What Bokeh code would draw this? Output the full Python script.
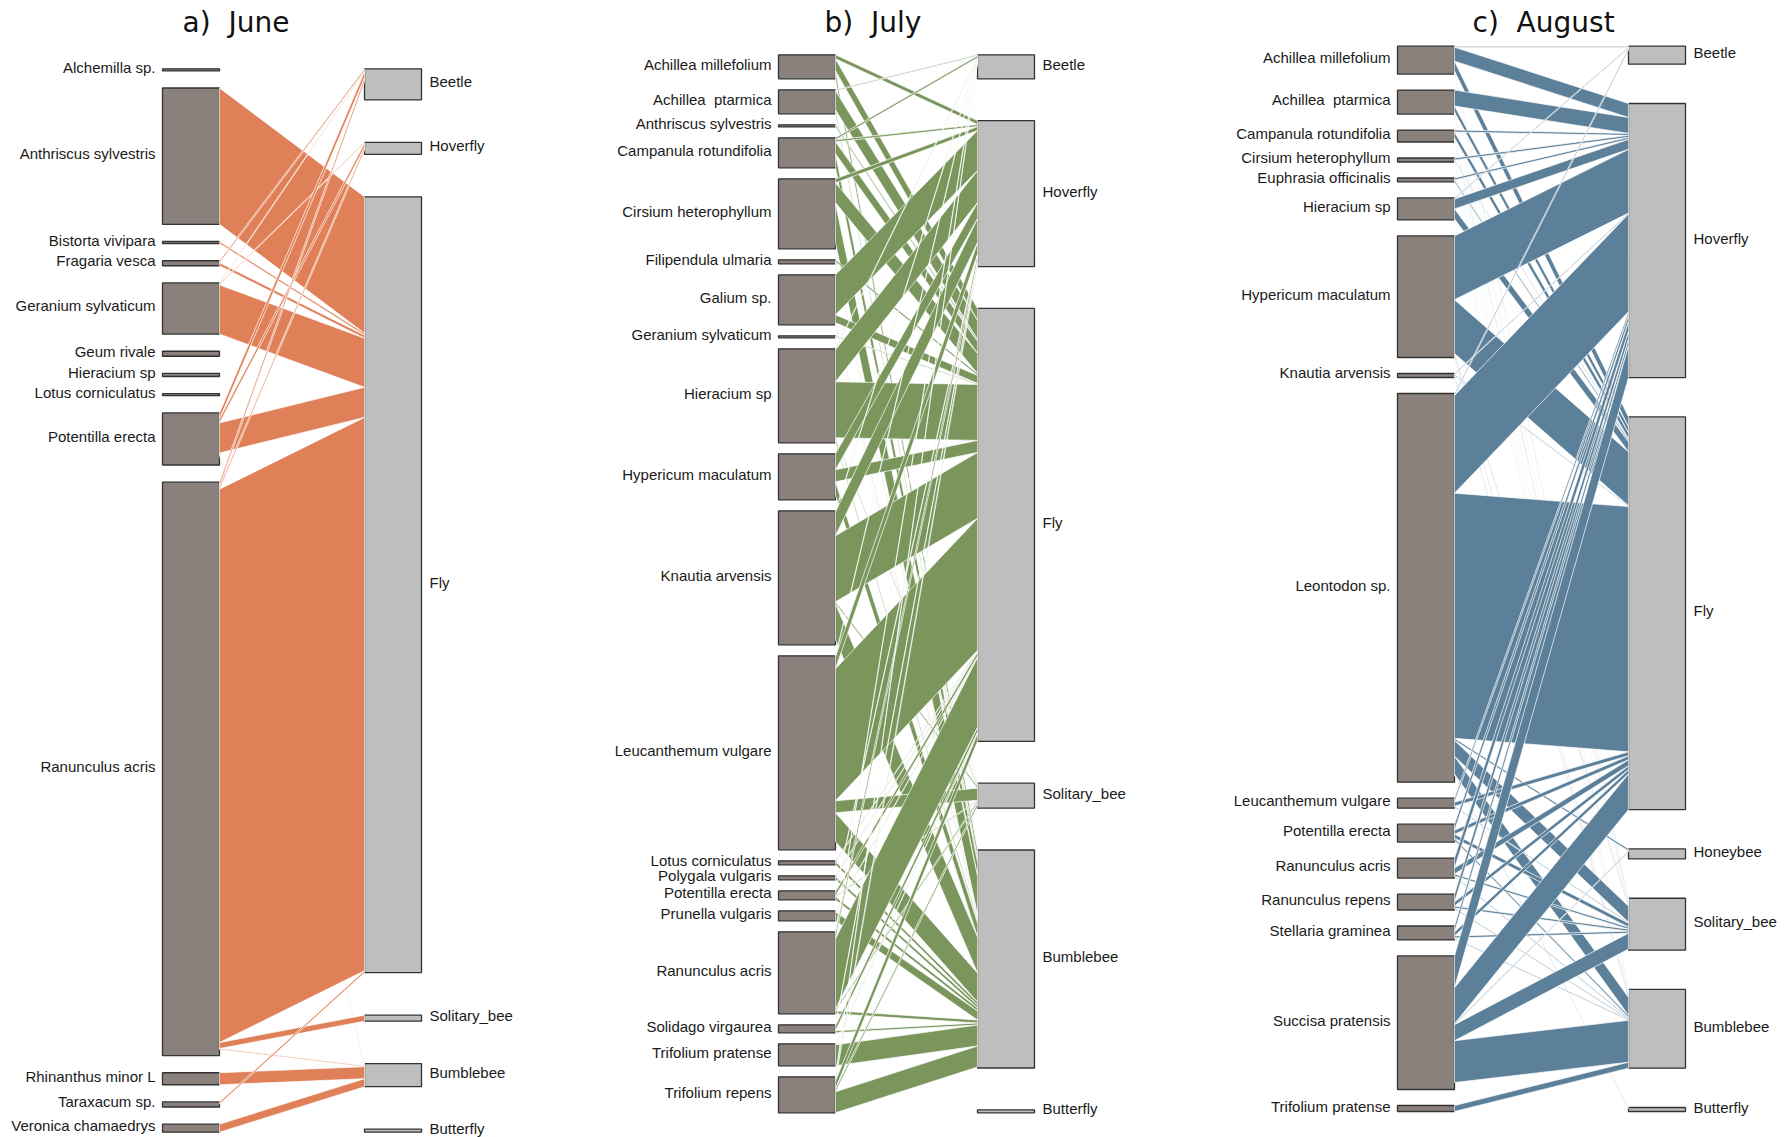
from bokeh.plotting import figure
from bokeh.models import Range1d
from bokeh.embed import file_html
from bokeh.resources import INLINE
from bokeh.core.properties import value

# ---------------- data: a) June ----------------
june_title = "a)  June"
june_plants = ["Alchemilla sp.", "Anthriscus sylvestris", "Bistorta vivipara", "Fragaria vesca",
               "Geranium sylvaticum", "Geum rivale", "Hieracium sp", "Lotus corniculatus",
               "Potentilla erecta", "Ranunculus acris", "Rhinanthus minor L", "Taraxacum sp.",
               "Veronica chamaedrys"]
june_plant_totals = [1, 68, 1, 2.5, 25.5, 2.5, 1.5, 1, 26, 286, 6, 2.5, 4]
june_groups = ["Beetle", "Hoverfly", "Fly", "Solitary_bee", "Bumblebee", "Butterfly"]
june_group_totals = [15.5, 6, 386.5, 3, 11.5, 1.5]
june_links = [
    [0, 0, 0, 0, 0, 0],
    [0, 0, 68, 0, 0, 0],
    [0, 0, 1, 0, 0, 0],
    [1, 0, 1.5, 0, 0, 0],
    [0.5, 0.5, 24.5, 0, 0, 0],
    [0, 0, 0, 0, 0, 0],
    [0, 0, 0, 0, 0, 0],
    [0, 0, 0, 0, 0, 0],
    [3, 2, 15, 0, 1, 0],
    [2, 1.5, 276, 3, 0.5, 0],
    [0, 0, 0, 0, 6, 0],
    [0, 0, 1, 0, 0, 0],
    [0, 0, 0, 0, 4, 0],
]

# ---------------- data: b) July ----------------
july_title = "b)  July"
july_plants = ["Achillea millefolium", "Achillea  ptarmica", "Anthriscus sylvestris",
               "Campanula rotundifolia", "Cirsium heterophyllum", "Filipendula ulmaria",
               "Galium sp.", "Geranium sylvaticum", "Hieracium sp", "Hypericum maculatum",
               "Knautia arvensis", "Leucanthemum vulgare", "Lotus corniculatus",
               "Polygala vulgaris", "Potentilla erecta", "Prunella vulgaris", "Ranunculus acris",
               "Solidago virgaurea", "Trifolium pratense", "Trifolium repens"]
july_plant_totals = [12, 12, 1, 15, 35, 2, 25, 1, 47, 23, 67, 97, 2, 2, 4.5, 5, 41, 4, 11, 18]
july_groups = ["Beetle", "Hoverfly", "Fly", "Solitary_bee", "Bumblebee", "Butterfly"]
july_group_totals = [12, 73, 215, 12.5, 109, 1.5]
july_links = [
    [0, 2, 6, 0, 4, 0],
    [0.5, 0, 9.5, 0, 2, 0],
    [0, 0, 1, 0, 0, 0],
    [1, 1, 6, 0, 7, 0],
    [0, 2, 10, 0.5, 19.5, 0],
    [0, 0, 1, 0, 1, 0],
    [0, 20, 4, 0, 1, 0],
    [0, 0, 0.5, 0, 0.5, 0],
    [0.5, 16, 28, 1, 1.5, 0],
    [0, 8, 6, 0, 7, 0],
    [0.5, 12, 33, 1, 18, 0],
    [0.5, 6, 66, 6, 14.5, 0],
    [0, 0, 0.5, 0, 1.5, 0],
    [0, 0, 0.5, 0, 1.5, 0],
    [0, 0.5, 2, 0.5, 1.5, 0],
    [0, 0, 0.5, 0, 4.5, 0],
    [0.5, 3, 35, 1, 1.5, 0],
    [0, 0.5, 2.5, 0, 1, 0],
    [0, 0, 0.5, 0, 10.5, 0],
    [0.5, 1.5, 4, 1.5, 10.5, 0],
]

# ---------------- data: c) August ----------------
aug_title = "c)  August"
aug_plants = ["Achillea millefolium", "Achillea  ptarmica", "Campanula rotundifolia",
              "Cirsium heterophyllum", "Euphrasia officinalis", "Hieracium sp",
              "Hypericum maculatum", "Knautia arvensis", "Leontodon sp.", "Leucanthemum vulgare",
              "Potentilla erecta", "Ranunculus acris", "Ranunculus repens", "Stellaria graminea",
              "Succisa pratensis", "Trifolium pratense"]
aug_plant_totals = [14, 12, 6, 2, 2, 11, 61, 2, 195, 5, 9, 10, 8, 7, 67, 3]
aug_groups = ["Beetle", "Hoverfly", "Fly", "Honeybee", "Solitary_bee", "Bumblebee", "Butterfly"]
aug_group_totals = [9, 134, 196, 5, 26, 38, 2]
aug_links = [
    [0.5, 7, 5, 0, 1, 0.5, 0],
    [0, 8, 3, 0, 0.5, 0.5, 0],
    [0, 1, 3, 0, 1, 0.5, 0],
    [0, 1, 0.5, 0, 0, 0.5, 0],
    [0, 1, 1, 0, 0, 0, 0],
    [0.5, 5, 5, 0, 0.5, 0, 0],
    [0, 32, 27, 0, 1, 1, 0],
    [0, 0.5, 0.5, 0, 0, 1, 0],
    [1, 49, 123, 1, 8, 9, 0.5],
    [0, 2, 2, 0, 0.5, 0, 0],
    [0, 3, 2, 0, 2, 1, 0],
    [0, 5, 3, 0, 1, 0.5, 0],
    [0, 4, 2, 0, 1, 0.5, 0],
    [0, 3, 2, 0, 1, 0.5, 0],
    [0, 16, 18, 0.5, 8, 21, 0],
    [0, 0, 0, 0, 0, 3, 0],
]

# ---------------- styling / layout ----------------
W, H = 1788, 1137
LABEL_FONT = value("Liberation Sans")
TITLE_FONT = value("DejaVu Sans")
PLANT_FILL = "#8a817d"
GROUP_FILL = "#bebebe"
BOX_LINE = "#333333"
NBSP = "\u00a0"

panels = [
    dict(title=june_title, plants=june_plants, ptot=june_plant_totals, groups=june_groups,
         gtot=june_group_totals, links=june_links, color="#e08058",
         px=(162, 219), gx=(364, 421), top=68.3, bottom=1131.7, gap=17.2, title_x=182),
    dict(title=july_title, plants=july_plants, ptot=july_plant_totals, groups=july_groups,
         gtot=july_group_totals, links=july_links, color="#7a965c",
         px=(778, 835), gx=(977, 1034), top=54.3, bottom=1112.3, gap=11.0, title_x=824),
    dict(title=aug_title, plants=aug_plants, ptot=aug_plant_totals, groups=aug_groups,
         gtot=aug_group_totals, links=aug_links, color="#5c8099",
         px=(1397, 1454), gx=(1628, 1685), top=45.7, bottom=1111.0, gap=16.0, title_x=1472),
]

p = figure(width=W, height=H, x_range=Range1d(0, W), y_range=Range1d(H, 0),
           x_axis_type=None, y_axis_type=None, toolbar_location=None,
           output_backend="svg", min_border=0, outline_line_color=None,
           background_fill_color="white", border_fill_color="white")
p.xgrid.visible = False
p.ygrid.visible = False


def keep_spaces(s):
    return s.replace("  ", " " + NBSP)


def stack(sizes, top, scale, gap):
    out = []
    y = top
    for s in sizes:
        out.append((y, y + s * scale))
        y += s * scale + gap
    return out


LABEL_DY = -2.5

for pn in panels:
    links = pn["links"]
    n, m = len(pn["plants"]), len(pn["groups"])
    peff = [max(pn["ptot"][i], sum(links[i])) for i in range(n)]
    geff = [max(pn["gtot"][j], sum(links[i][j] for i in range(n))) for j in range(m)]
    span = pn["bottom"] - pn["top"]
    scale = (span - (n - 1) * pn["gap"]) / sum(peff)
    ggap = (span - scale * sum(geff)) / (m - 1)
    pys = stack(peff, pn["top"], scale, pn["gap"])
    gys = stack(geff, pn["top"], scale, ggap)

    # boxes
    p.quad(left=[pn["px"][0]] * n, right=[pn["px"][1]] * n,
           top=[a for a, b in pys], bottom=[b for a, b in pys],
           fill_color=PLANT_FILL, line_color=BOX_LINE, line_width=1.3)
    p.quad(left=[pn["gx"][0]] * m, right=[pn["gx"][1]] * m,
           top=[a for a, b in gys], bottom=[b for a, b in gys],
           fill_color=GROUP_FILL, line_color=BOX_LINE, line_width=1.3)

    # links
    xs, ys = [], []
    pc = [a for a, b in pys]
    gc = [a for a, b in gys]
    x0, x1 = pn["px"][1], pn["gx"][0]
    for i in range(n):
        for j in range(m):
            v = links[i][j]
            if v > 0:
                w = v * scale
                xs.append([x0, x1, x1, x0])
                ys.append([pc[i], gc[j], gc[j] + w, pc[i] + w])
                pc[i] += w
                gc[j] += w
    p.patches(xs, ys, fill_color=pn["color"], line_color="white", line_width=0.7)

    # labels
    p.text(x=[pn["px"][0] - 7] * n, y=[(a + b) / 2 + LABEL_DY for a, b in pys],
           text=[keep_spaces(t) for t in pn["plants"]],
           text_align="right", text_baseline="middle", text_font=LABEL_FONT,
           text_font_size="15px", text_color="#1a1a1a")
    p.text(x=[pn["gx"][1] + 8] * m, y=[(a + b) / 2 + LABEL_DY for a, b in gys],
           text=pn["groups"],
           text_align="left", text_baseline="middle", text_font=LABEL_FONT,
           text_font_size="15px", text_color="#1a1a1a")
    p.text(x=[pn["title_x"]], y=[22], text=[keep_spaces(pn["title"])], text_align="left",
           text_baseline="middle", text_font=TITLE_FONT, text_font_size="28px",
           text_color="#111111")

open("out.html", "w").write(file_html(p, INLINE))
